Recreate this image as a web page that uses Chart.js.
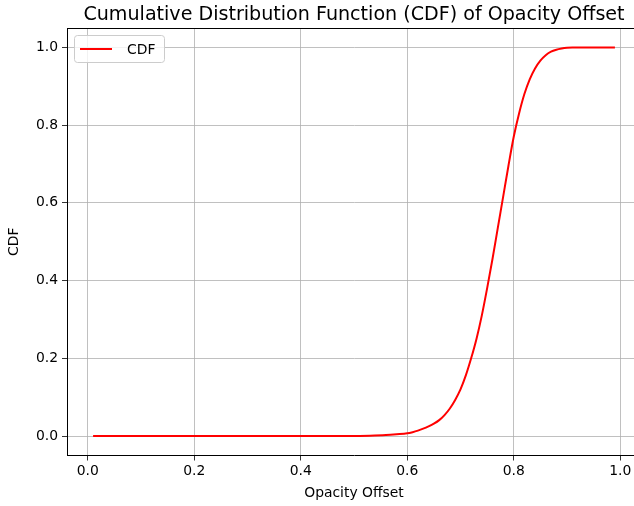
<!DOCTYPE html>
<html>
<head>
<meta charset="utf-8">
<script src="https://cdn.jsdelivr.net/npm/chart.js@4"></script>
<style>
  html, body { margin: 0; padding: 0; background: #fff; overflow: hidden; }
  #wrap { width: 634px; height: 506px; overflow: hidden; }
</style>
</head>
<body>
<div id="wrap"><canvas id="cdfChart" width="645" height="506"></canvas></div>
<script>
const chartTitle = 'Cumulative Distribution Function (CDF) of Opacity Offset';
const xLabel = 'Opacity Offset';
const yLabel = 'CDF';
const seriesLabel = 'CDF';

// values
const opacityOffset = [0.01, 0.10, 0.20, 0.30, 0.40, 0.45, 0.50, 0.53, 0.56, 0.58,
                       0.60, 0.61, 0.62, 0.63, 0.64, 0.65, 0.66, 0.67, 0.68, 0.69,
                       0.70, 0.71, 0.72, 0.73, 0.74, 0.75, 0.76, 0.77, 0.78, 0.79,
                       0.80, 0.81, 0.82, 0.83, 0.84, 0.85, 0.86, 0.87, 0.88, 0.89,
                       0.90, 0.91, 0.93, 0.96, 0.99];
const cdfValues = [0, 0, 0, 0, 0, 0.0001, 0.0004, 0.001, 0.0025, 0.0045,
                   0.007, 0.010, 0.014, 0.019, 0.025, 0.032, 0.041, 0.054, 0.071, 0.093,
                   0.120, 0.156, 0.200, 0.250, 0.310, 0.380, 0.455, 0.535, 0.615, 0.695,
                   0.770, 0.830, 0.880, 0.918, 0.946, 0.966, 0.980, 0.989, 0.994, 0.997,
                   0.999, 1.0, 1.0, 1.0, 1.0];

const xTicks = [0.0, 0.2, 0.4, 0.6, 0.8, 1.0];
const yTicks = [0.0, 0.2, 0.4, 0.6, 0.8, 1.0];

const tickFont = { family: 'DejaVu Sans', size: 13.9 };

// matplotlib-like frame, title and legend box
const framePlugin = {
    id: 'framePlugin',
    afterDraw(chart) {
        const { ctx, chartArea } = chart;
        ctx.save();
        ctx.strokeStyle = '#000';
        ctx.lineWidth = 1;
        ctx.beginPath();
        ctx.moveTo(chartArea.left, chartArea.top + 0.5);
        ctx.lineTo(chartArea.right, chartArea.top + 0.5);
        ctx.lineTo(chartArea.right, chartArea.bottom);
        ctx.stroke();

        // title
        ctx.fillStyle = '#000';
        ctx.font = '19.1px "DejaVu Sans"';
        ctx.textAlign = 'center';
        ctx.textBaseline = 'alphabetic';
        ctx.fillText(chartTitle, (chartArea.left + chartArea.right) / 2, 19.5);

        // legend
        const lx = 74.5, ly = 35.5, lw = 90, lh = 27;
        ctx.beginPath();
        ctx.roundRect(lx, ly, lw, lh, 3);
        ctx.fillStyle = 'rgba(255,255,255,0.8)';
        ctx.fill();
        ctx.strokeStyle = '#cccccc';
        ctx.stroke();
        const ds = chart.data.datasets[0];
        ctx.strokeStyle = ds.borderColor;
        ctx.lineWidth = 2;
        ctx.beginPath();
        ctx.moveTo(80, ly + lh / 2);
        ctx.lineTo(112, ly + lh / 2);
        ctx.stroke();
        ctx.fillStyle = '#000';
        ctx.font = '13.9px "DejaVu Sans"';
        ctx.textAlign = 'left';
        ctx.textBaseline = 'middle';
        ctx.fillText(ds.label, 127, ly + lh / 2 + 1);
        ctx.restore();
    }
};

const ctx = document.getElementById('cdfChart').getContext('2d');
new Chart(ctx, {
    type: 'line',
    data: {
        datasets: [{
            label: seriesLabel,
            data: opacityOffset.map((x, i) => ({ x: x, y: cdfValues[i] })),
            borderColor: '#ff0000',
            borderWidth: 2,
            pointRadius: 0,
            fill: false,
            cubicInterpolationMode: 'monotone'
        }]
    },
    options: {
        responsive: false,
        animation: false,
        devicePixelRatio: 1,
        layout: { padding: { top: 28, right: 4, left: 0, bottom: 0 } },
        plugins: {
            legend: { display: false },
            title: { display: false },
            tooltip: { enabled: false }
        },
        scales: {
            x: {
                type: 'linear',
                min: -0.039,
                max: 1.039,
                afterBuildTicks: scale => { scale.ticks = xTicks.map(v => ({ value: v })); },
                afterFit: scale => { scale.height = 50.5; },
                ticks: {
                    callback: v => v.toFixed(1),
                    font: tickFont,
                    color: '#000',
                    padding: 3,
                    autoSkip: false,
                    maxRotation: 0
                },
                grid: { color: '#b0b0b0', lineWidth: 0.8, tickColor: '#000', tickLength: 5 },
                border: { display: true, color: '#000', width: 1 },
                title: { display: true, text: xLabel, font: tickFont, color: '#000', padding: { top: 0, bottom: 4 } }
            },
            y: {
                type: 'linear',
                min: -0.05,
                max: 1.05,
                afterBuildTicks: scale => { scale.ticks = yTicks.map(v => ({ value: v })); },
                afterFit: scale => { scale.width = 67; },
                ticks: {
                    callback: v => v.toFixed(1),
                    font: tickFont,
                    color: '#000',
                    padding: 4,
                    autoSkip: false
                },
                grid: { color: '#b0b0b0', lineWidth: 0.8, tickColor: '#000', tickLength: 5 },
                border: { display: true, color: '#000', width: 1 },
                title: { display: true, text: yLabel, font: tickFont, color: '#000', padding: { top: 6, bottom: 0 } }
            }
        }
    },
    plugins: [framePlugin]
});
</script>
</body>
</html>
